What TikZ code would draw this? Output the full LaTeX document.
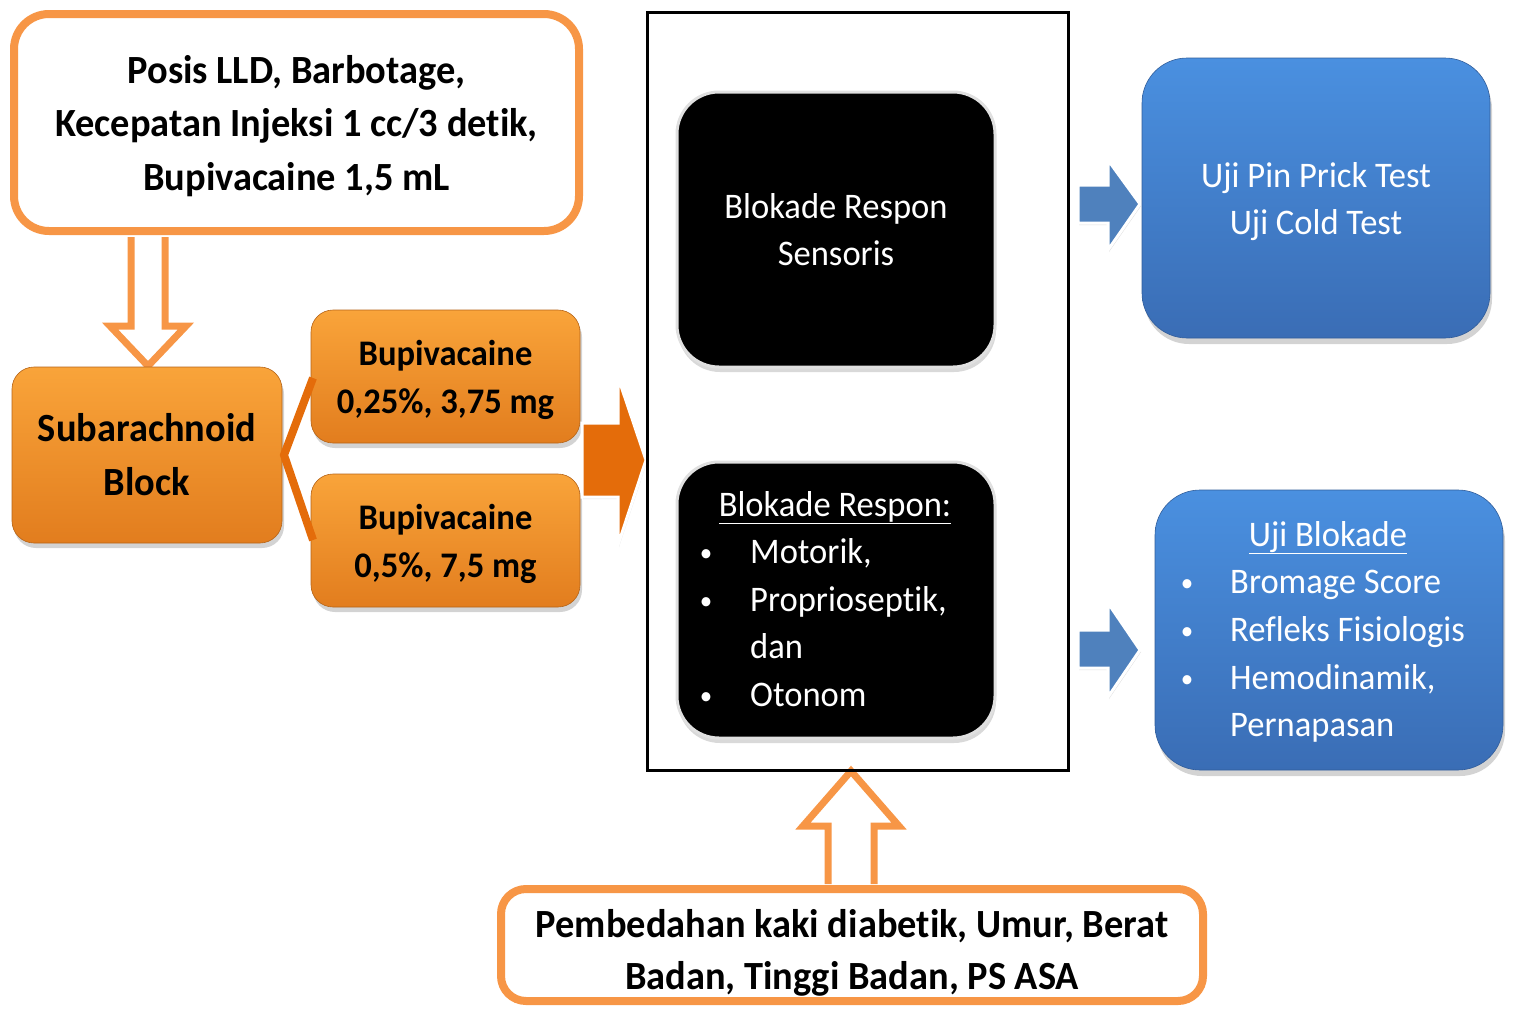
\documentclass[tikz,border=0pt]{standalone}
\usepackage{fontspec}
\setmainfont{Carlito}[Ligatures=NoCommon, FakeStretch=0.96]
\usetikzlibrary{shadows}
\definecolor{oline}{HTML}{F79646}
\definecolor{otop}{HTML}{F9A43A}
\definecolor{obot}{HTML}{E27D1E}
\definecolor{odark}{HTML}{E46C0A}
\definecolor{btop}{HTML}{4A90E0}
\definecolor{bbot}{HTML}{3A6DB5}
\definecolor{barrow}{HTML}{4F81BD}
\tikzset{
  wbox/.style={draw=oline, line width=8pt, fill=white, rounded corners=35pt},
  btxt/.style={align=center, inner sep=0pt, font=\bfseries\fontsize{40}{53.5}\selectfont},
  obox/.style={top color=otop, bottom color=obot, draw=obot!80!black, line width=0.6pt,
    rounded corners=22pt, align=center,
    drop shadow={shadow xshift=2pt, shadow yshift=-5pt, opacity=0.35}},
  kbox/.style={fill=black, draw=white!88!black, line width=3pt, rounded corners=42pt,
    align=center, text=white, font=\fontsize{36}{47}\selectfont,
    drop shadow={shadow xshift=1pt, shadow yshift=-5pt, opacity=0.3}},
  bbox/.style={top color=btop, bottom color=bbot, draw=bbot!85!black, line width=0.6pt,
    rounded corners=45pt, align=center, text=white, font=\fontsize{36}{47}\selectfont,
    drop shadow={shadow xshift=2pt, shadow yshift=-6pt, opacity=0.35}},
  hollow/.style={draw=oline, line width=7pt, fill=white, line join=miter},
  barr/.style={fill=barrow, draw=white, line width=3pt, line join=miter,
    drop shadow={shadow xshift=1pt, shadow yshift=-2pt, opacity=0.25}},
  wtxt/.style={text=white, font=\fontsize{36}{47}\selectfont, inner sep=0pt},
  bul/.style={text=white, font=\fontsize{26}{30}\selectfont, inner sep=0pt},
}
\begin{document}
\begin{tikzpicture}[x=1pt, y=-1pt]
\useasboundingbox (0,0) rectangle (1513,1010);

% hollow arrows
\draw[hollow] (131,237) -- (131,326) -- (110,326) -- (148,366) -- (186,326) -- (165,326) -- (165,237);
\draw[hollow] (828,884) -- (828,826) -- (803,826) -- (851,771) -- (899,826) -- (874,826) -- (874,884);

% top box
\node[wbox, minimum width=565pt, minimum height=217pt] (top) at (296.5,122.5) {};
\node[btxt] (toptxt) at (296.5,126)
  {Posis LLD, Barbotage,\\Kecepatan Injeksi 1 cc/3 detik,\\Bupivacaine 1,5 mL};

% bottom box
\node[wbox, rounded corners=25pt, minimum width=702pt, minimum height=112pt] (bot) at (852,945) {};
\node[btxt, font=\bfseries\fontsize{40}{52}\selectfont] (bottxt) at (852,953)
  {Pembedahan kaki diabetik, Umur, Berat\\Badan, Tinggi Badan, PS ASA};

% subarachnoid
\node[obox, minimum width=270pt, minimum height=176pt,
  font=\bfseries\fontsize{40}{54}\selectfont] (sab) at (147,455) {Subarachnoid\\Block};

% bupivacaine boxes
\node[obox, minimum width=269pt, minimum height=133pt] (bup1) at (445.5,376.5) {};
\node[btxt, font=\bfseries\fontsize{36}{48}\selectfont] (bup1t) at (445.5,380) {Bupivacaine\\0,25\%, 3,75 mg};
\node[obox, minimum width=269pt, minimum height=133pt] (bup2) at (445.5,540.5) {};
\node[btxt, font=\bfseries\fontsize{36}{48}\selectfont] (bup2t) at (445.5,544) {Bupivacaine\\0,5\%, 7,5 mg};

% bracket
\coordinate (bt) at (313,378);
\coordinate (bm) at (284,455);
\coordinate (bb) at (313,540);
\draw[odark, line width=8pt] (bt) -- (bm) -- (bb);

% big orange arrow
\draw[fill=odark, draw=white, line width=3pt, line join=miter,
  drop shadow={shadow xshift=1pt, shadow yshift=-2pt, opacity=0.25}]
  (582,423) -- (618,423) -- (618,377) -- (646,460) -- (618,545) -- (618,497) -- (582,497) -- cycle;

% central frame
\node[draw=black, line width=3pt, minimum width=421pt, minimum height=758pt] (frame) at (857.5,391) {};

% black boxes
\node[kbox, minimum width=318pt, minimum height=275pt] (k1) at (836,229.5) {Blokade Respon\\Sensoris};
\node[kbox, minimum width=318pt, minimum height=276pt] (k2) at (836,600) {};
\node[wtxt, anchor=base] (k2t) at (835,516) {\underline{Blokade Respon:}};
\node[bul, anchor=base] (k2b1) at (706,561) {\textbullet};
\node[bul, anchor=base] (k2b2) at (706,609) {\textbullet};
\node[bul, anchor=base] (k2b3) at (706,704) {\textbullet};
\node[wtxt, anchor=base west] (k2l1) at (750,563) {Motorik,};
\node[wtxt, anchor=base west] (k2l2) at (750,611) {Proprioseptik,};
\node[wtxt, anchor=base west] (k2l3) at (750,658) {dan};
\node[wtxt, anchor=base west] (k2l4) at (750,706) {Otonom};

% blue arrows
\draw[barr] (1078,185) -- (1108,185) -- (1108,160) -- (1140,204) -- (1108,250) -- (1108,223) -- (1078,223) -- cycle;
\draw[barr] (1078,630) -- (1108,630) -- (1108,603) -- (1140,650) -- (1108,697) -- (1108,668) -- (1078,668) -- cycle;

% blue boxes
\node[bbox, minimum width=348pt, minimum height=280pt] (b1) at (1316,198) {};
\node[wtxt, align=center] (b1t) at (1316,202) {Uji Pin Prick Test\\Uji Cold Test};
\node[bbox, minimum width=348pt, minimum height=280pt] (b2) at (1329,630) {};
\node[wtxt, anchor=base] (b2t) at (1328,546) {\underline{Uji Blokade}};
\node[bul, anchor=base] (b2b1) at (1187,591) {\textbullet};
\node[bul, anchor=base] (b2b2) at (1187,639) {\textbullet};
\node[bul, anchor=base] (b2b3) at (1187,687) {\textbullet};
\node[wtxt, anchor=base west] (b2l1) at (1230,593) {Bromage Score};
\node[wtxt, anchor=base west] (b2l2) at (1230,641) {Refleks Fisiologis};
\node[wtxt, anchor=base west] (b2l3) at (1230,689) {Hemodinamik,};
\node[wtxt, anchor=base west] (b2l4) at (1230,736) {Pernapasan};
\end{tikzpicture}
\end{document}
